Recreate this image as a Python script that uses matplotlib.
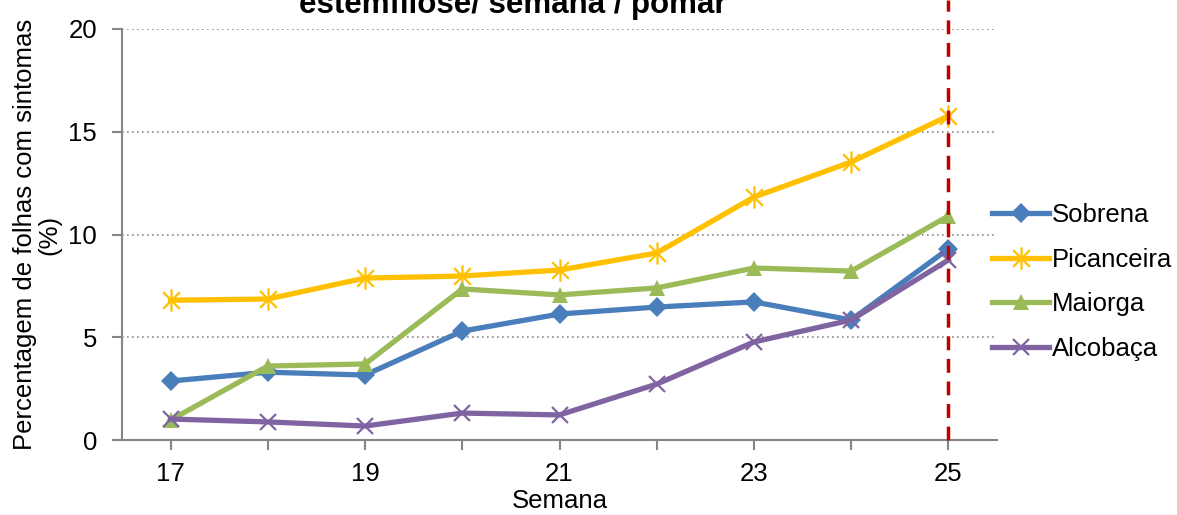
import matplotlib
matplotlib.use("Agg")
import matplotlib.pyplot as plt
from matplotlib.path import Path
from matplotlib.ticker import MultipleLocator

plt.rcParams['font.family'] = ['Liberation Sans', 'DejaVu Sans']

weeks = [17, 18, 19, 20, 21, 22, 23, 24, 25]
sobrena = [2.87, 3.3, 3.16, 5.3, 6.13, 6.47, 6.72, 5.84, 9.3]
picanceira = [6.8, 6.86, 7.88, 7.98, 8.27, 9.1, 11.82, 13.53, 15.77]
maiorga = [0.97, 3.6, 3.7, 7.35, 7.06, 7.4, 8.37, 8.22, 10.9]
alcobaca = [1.02, 0.88, 0.68, 1.31, 1.22, 2.72, 4.77, 5.84, 8.76]
series_names = ["Sobrena", "Picanceira", "Maiorga", "Alcobaça"]
colors = ["#4A7EBB", "#FFC000", "#9BBB59", "#8064A2"]

FS = 18.5

star = Path([(0, -1), (0, 1), (-0.75, -0.75), (0.75, 0.75), (-0.75, 0.75), (0.75, -0.75)],
            [Path.MOVETO, Path.LINETO, Path.MOVETO, Path.LINETO, Path.MOVETO, Path.LINETO])

fig = plt.figure(figsize=(11.77, 5.15), dpi=100)
ax = fig.add_axes([122/1177, 1-440/515, (997-122)/1177, (440-29)/515])

data = [sobrena, picanceira, maiorga, alcobaca]
markers = ["D", star, "^", "x"]
msizes = [10, 16, 11.5, 11]
for name, vals, c, m, ms in zip(series_names, data, colors, markers, msizes):
    kw = dict(color=c, lw=3.8, marker=m, markersize=ms, label=name, clip_on=False)
    if m is star or m == "x":
        kw.update(markeredgewidth=1.6, markerfacecolor='none', markeredgecolor=c)
    else:
        kw.update(markeredgewidth=0)
    ax.plot(weeks, vals, **kw)

ax.plot([25, 25], [0, 21.4], color="#C00000", lw=2.5, ls=(0, (4, 2.5)), clip_on=False, zorder=5)

ax.set_xlim(16.5, 25.5)
ax.set_ylim(0, 20)
ax.set_xticks([17, 19, 21, 23, 25])
ax.xaxis.set_minor_locator(MultipleLocator(1))
ax.set_yticks([0, 5, 10, 15, 20])
ax.yaxis.grid(True, ls=(0, (1, 2)), color="#8C8C8C", lw=1.2)
ax.set_axisbelow(True)
for s in ["top", "right"]:
    ax.spines[s].set_visible(False)
for s in ["left", "bottom"]:
    ax.spines[s].set_color("#868686")
    ax.spines[s].set_linewidth(1.5)
ax.tick_params(axis='both', which='both', direction='out', color="#868686", width=1.5, labelsize=FS)
ax.tick_params(axis='both', which='major', length=7)
ax.tick_params(axis='x', which='minor', length=7)
ax.tick_params(axis='x', pad=9)
ax.tick_params(axis='y', pad=11)

ax.set_xlabel("Semana", fontsize=FS, labelpad=2)
ax.set_ylabel("Percentagem de folhas com sintomas\n(%)", fontsize=FS, labelpad=5, linespacing=1.0)

fig.text(513/1177, 1-13/515, "estemfilose/ semana / pomar", fontsize=22.5, fontweight='bold',
         ha='center', va='baseline')

leg = ax.legend(loc='center left', bbox_to_anchor=(982/1177, 1-282/515), bbox_transform=fig.transFigure,
                frameon=False, fontsize=FS, handlelength=2.2, handletextpad=0.12, labelspacing=0.81,
                borderaxespad=0)

fig.savefig("out.png", dpi=100)
